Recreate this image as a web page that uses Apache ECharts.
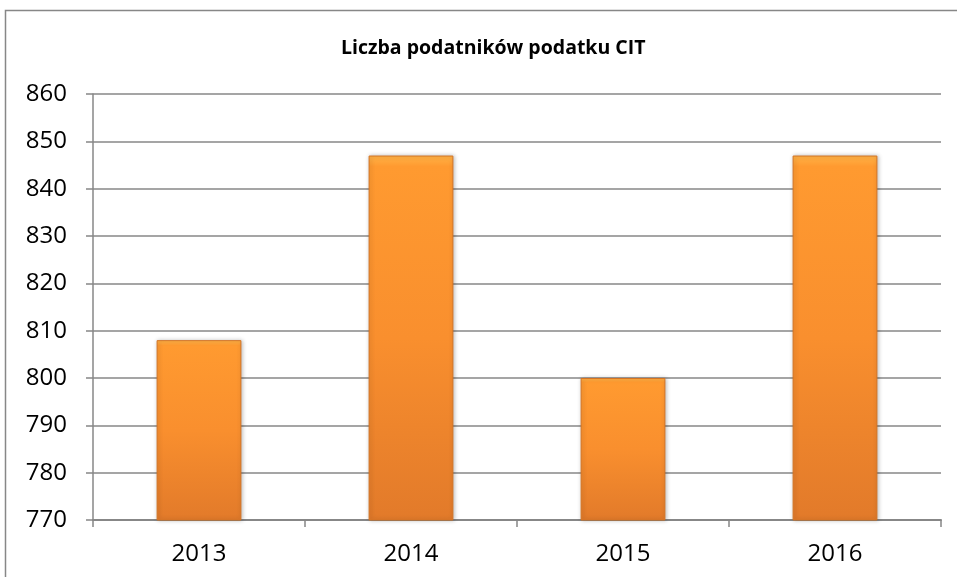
<!DOCTYPE html>
<html>
<head>
<meta charset="utf-8">
<script src="https://cdn.jsdelivr.net/npm/echarts@6/dist/echarts.min.js"></script>
<style>
  html, body { margin: 0; padding: 0; background: #fff; }
  #chart { width: 957px; height: 577px; }
</style>
</head>
<body>
<div id="chart"></div>
<script>
// Number of CIT taxpayers per year
const titleText = 'Liczba podatników podatku CIT';
const years = ['2013', '2014', '2015', '2016'];
const taxpayers = [808, 847, 800, 847];
const yMin = 770, yMax = 860, yStep = 10;

const chart = echarts.init(document.getElementById('chart'));
const font = 'Open Sans, Liberation Sans, sans-serif';
const axisGray = '#878787';

chart.setOption({
  animation: false,
  backgroundColor: '#fff',
  title: {
    text: titleText,
    left: 336,
    top: 33,
    textStyle: { fontFamily: font, fontSize: 19.5, fontWeight: 'bold', color: '#000' }
  },
  graphic: [{
    type: 'rect',
    shape: { x: 5.5, y: 10.5, width: 960, height: 600 },
    style: { fill: 'none', stroke: axisGray, lineWidth: 1.5 },
    silent: true
  }],
  grid: { left: 93, right: 16, top: 94, bottom: 57, containLabel: false },
  xAxis: {
    type: 'category',
    data: years,
    axisLine: { lineStyle: { color: axisGray, width: 2 } },
    axisTick: { show: true, length: 7, lineStyle: { color: axisGray, width: 1.5 } },
    axisLabel: { fontFamily: font, fontSize: 24, color: '#000', margin: 22 }
  },
  yAxis: {
    type: 'value',
    min: yMin, max: yMax, interval: yStep,
    axisLine: { show: true, lineStyle: { color: axisGray, width: 1.5 } },
    axisTick: { show: true, length: 7, lineStyle: { color: axisGray, width: 1.5 } },
    splitLine: { lineStyle: { color: axisGray, width: 1.5 } },
    axisLabel: { fontFamily: font, fontSize: 24, color: '#000', margin: 26 }
  },
  series: [{
    type: 'bar',
    data: taxpayers,
    barWidth: '40%',
    itemStyle: {
      color: new echarts.graphic.LinearGradient(0, 0, 0, 1, [
        { offset: 0, color: '#FFB347' },
        { offset: 0.03, color: '#FF9A30' },
        { offset: 0.5, color: '#F98F2E' },
        { offset: 1, color: '#E27A2A' }
      ]),
      borderColor: '#D47424',
      borderWidth: 1,
      shadowColor: 'rgba(0,0,0,0.25)',
      shadowBlur: 4,
      shadowOffsetX: 1,
      shadowOffsetY: 0
    }
  }]
});
</script>
</body>
</html>
